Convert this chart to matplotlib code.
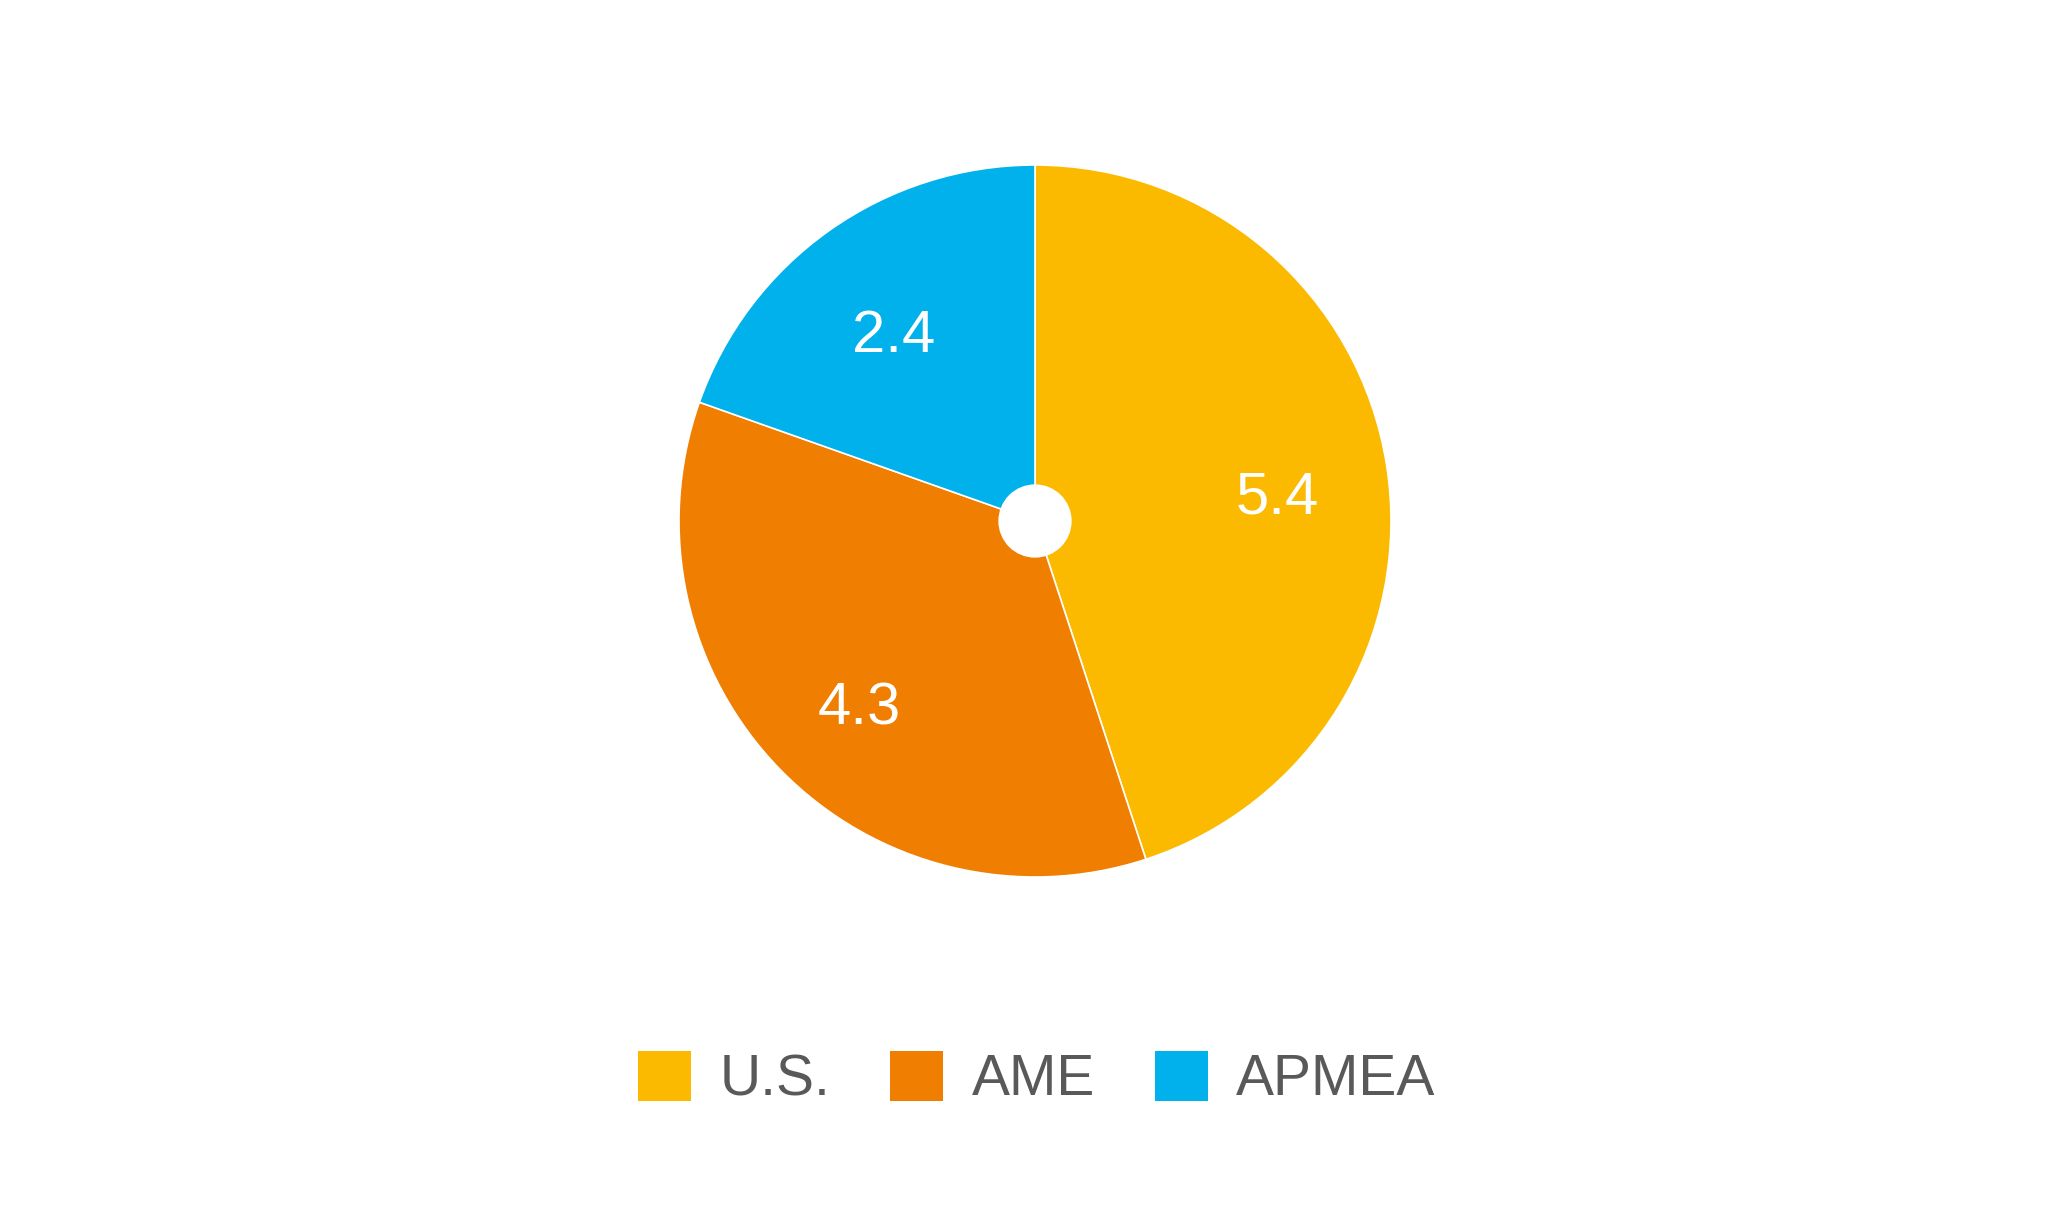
import matplotlib
matplotlib.use("Agg")
import matplotlib.pyplot as plt
from matplotlib.patches import Patch, Circle

REGIONS = ['U.S.', 'AME', 'APMEA']
VALUES = [5.44, 4.29, 2.37]
LABELS = ['5.4', '4.3', '2.4']
COLORS = ['#FBBA00', '#F07E00', '#00B1EB']

W, H = 2070, 1212
fig = plt.figure(figsize=(W / 100, H / 100), dpi=100)

cx, cy, r = 1035, H - 521, 356
ax = fig.add_axes([(cx - r) / W, (cy - r) / H, 2 * r / W, 2 * r / H])

wedges, texts = ax.pie(
    VALUES,
    colors=COLORS,
    startangle=90,
    counterclock=False,
    labels=LABELS,
    labeldistance=0.69,
    wedgeprops=dict(edgecolor='white', linewidth=1.2),
    textprops=dict(color='white', fontsize=43, family='Liberation Sans'),
)
for t in texts:
    t.set_ha('center')
    t.set_va('center')
    x, y = t.get_position()
    t.set_position((x, y - 0.045))
ax.add_patch(Circle((0, 0), 0.101, color='white', zorder=5))
ax.set_xlim(-1, 1)
ax.set_ylim(-1, 1)
ax.axis('off')

handles = [Patch(facecolor=c, edgecolor='none') for c in COLORS]
leg = fig.legend(
    handles, REGIONS,
    loc='center', bbox_to_anchor=(1037 / W, 133 / H),
    ncol=3, frameon=False,
    prop=dict(family='Liberation Sans', size=41),
    handlelength=0.93, handleheight=1.0,
    handletextpad=0.5, columnspacing=1.05,
)
for t in leg.get_texts():
    t.set_color('#595959')

fig.savefig('out.png', dpi=100, facecolor='white')
